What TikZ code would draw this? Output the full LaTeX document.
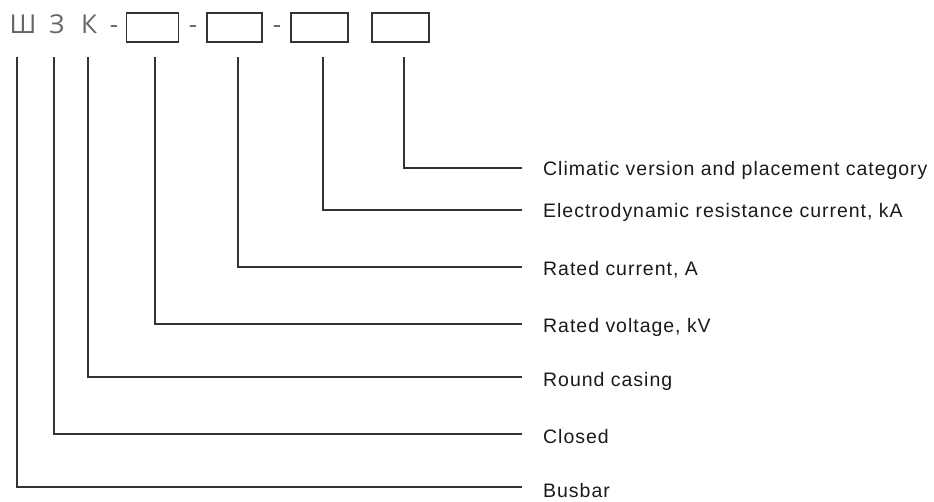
\documentclass[tikz,border=0pt]{standalone}
\usepackage{fontspec}
\setmainfont{Liberation Sans}
\newfontfamily\lblfont[LetterSpace=5]{Liberation Sans}
\newfontfamily\codefont{Open Sans}
\definecolor{ink}{HTML}{1A1A1A}
\definecolor{lineink}{HTML}{333333}
\definecolor{codeink}{HTML}{666666}
\begin{document}
\begin{tikzpicture}[x=1pt,y=-1pt,
  codeletter/.style={text=codeink,font=\codefont\fontsize{26}{26}\selectfont,inner sep=0pt,anchor=base},
  codebox/.style={draw=lineink,line width=1.4pt,minimum width=52pt,minimum height=29pt,inner sep=0pt},
  lbl/.style={text=ink,font=\lblfont\fontsize{19.5}{21}\selectfont,anchor=west,inner sep=2pt},
  lead/.style={draw=lineink,line width=1.1pt}]
\useasboundingbox (0,0) rectangle (934,501);
% code header
\node[codeletter] (sh) at (23,33) {Ш};
\node[codeletter] (ze) at (57,33) {З};
\node[codeletter] (ka) at (89,33) {К};
\node[codeletter] (d1) at (114,33) {-};
\node[codebox] (b1) at (152.5,27.5) {};
\node[codeletter] (d2) at (193,33) {-};
\node[codebox,minimum width=55pt] (b2) at (234.5,27.5) {};
\node[codeletter] (d3) at (277,33) {-};
\node[codebox,minimum width=57pt] (b3) at (319.5,27.5) {};
\node[codebox,minimum width=57pt] (b4) at (400.5,27.5) {};
% labels
\node[lbl] (l1) at (541,170) {Climatic version and placement category};
\node[lbl] (l2) at (541,212) {Electrodynamic resistance current, kA};
\node[lbl] (l3) at (541,270) {Rated current, A};
\node[lbl] (l4) at (541,327) {Rated voltage, kV};
\node[lbl] (l5) at (541,381) {Round casing};
\node[lbl] (l6) at (541,437) {Closed};
\node[lbl] (l7) at (541,491) {Busbar};
% leader start points
\coordinate (s1) at (404,57);
\coordinate (s2) at (323,57);
\coordinate (s3) at (238,57);
\coordinate (s4) at (155,57);
\coordinate (s5) at (88,57);
\coordinate (s6) at (54,57);
\coordinate (s7) at (17,57);
% leader end points
\coordinate (e1) at (522,168);
\coordinate (e2) at (522,210);
\coordinate (e3) at (522,267);
\coordinate (e4) at (522,324);
\coordinate (e5) at (522,377);
\coordinate (e6) at (522,434);
\coordinate (e7) at (522,487);
\foreach \i in {1,...,7} {\draw[lead] (s\i) |- (e\i);}
\end{tikzpicture}
\end{document}
